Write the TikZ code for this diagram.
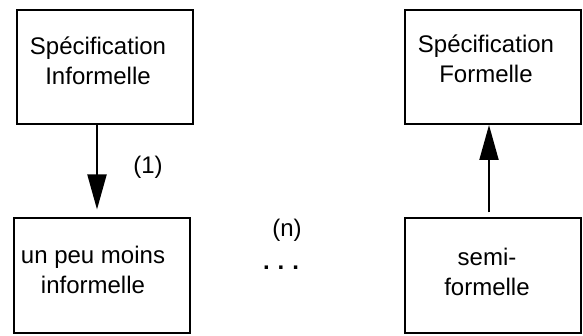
\documentclass[tikz,border=0pt]{standalone}
\usepackage{fontspec}
\setmainfont{Liberation Sans}
\usetikzlibrary{arrows.meta,positioning}
\begin{document}
\begin{tikzpicture}[x=1pt,y=-1pt,
    box/.style={draw,line width=2pt,minimum width=176pt,minimum height=114pt,inner sep=0pt},
    txt/.style={font=\fontsize{24}{30}\selectfont,align=center,inner sep=0pt},
    fleche/.style={line width=2pt,-{Triangle[length=35pt,width=19pt]}}]
    \useasboundingbox (0,0) rectangle (583,336);
    %% boxes
    \node[box] (inf) at (104.5,67) {};
    \node[box] (form) at (492.5,67) {};
    \node[box] (moins) at (102,275.5) {};
    \node[box] (semi) at (492.5,275.5) {};
    %% texts
    \node[txt] (tinf) at (98,61) {Spécification\\Informelle};
    \node[txt] (tform) at (486,59) {Spécification\\Formelle};
    \node[txt] (tmoins) at (93,270) {un peu moins\\informelle};
    \node[txt] (tsemi) at (487,272) {semi-\\formelle};
    %% steps
    \coordinate (a1) at (97,0);
    \coordinate (a2) at (489,0);
    \draw[fleche,shorten >=8pt] (inf.south -| a1) -- (moins.north -| a1);
    \draw[fleche,shorten <=5pt] (semi.north -| a2) -- (form.south -| a2);
    \node[txt] (un) at (148,167) {(1)};
    \node[txt] (n) at (287,230) {(n)};
    \node[txt,font=\fontsize{24}{30}\selectfont\bfseries] (dots) at (281,268) {.\hspace{8pt}.\hspace{8pt}.};
\end{tikzpicture}
\end{document}
